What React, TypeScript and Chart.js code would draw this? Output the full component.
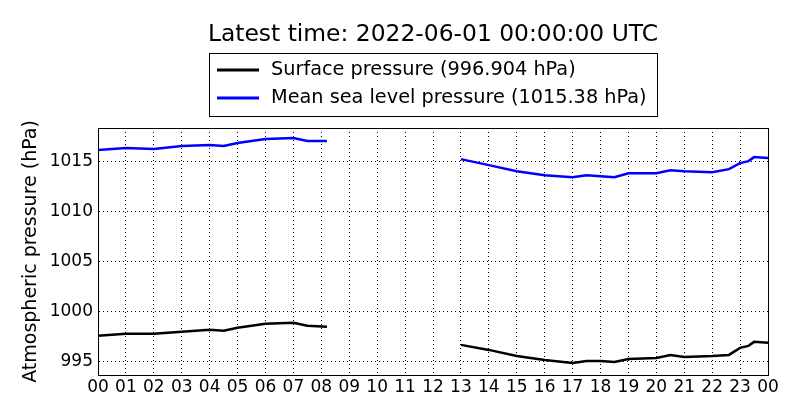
import React, { useEffect, useRef } from "react";
import { Chart, registerables } from "chart.js";
Chart.register(...registerables);

const titleText = "Latest time: 2022-06-01 00:00:00 UTC";
const surfaceLabel = "Surface pressure (996.904 hPa)";
const mslLabel = "Mean sea level pressure (1015.38 hPa)";
const hours = [0, 1, 2, 3, 4, 4.5, 5, 6, 7, 7.5, 8.2, 10, 13, 14, 15, 16, 17, 17.5, 18, 18.5, 19, 20, 20.5, 21, 22, 22.6, 23, 23.3, 23.5, 24];
const surface = [997.6, 997.8, 997.8, 998.0, 998.2, 998.1, 998.4, 998.8, 998.9, 998.6, 998.5, null, 996.7, 996.2, 995.6, 995.2, 994.9, 995.1, 995.1, 995.0, 995.3, 995.4, 995.7, 995.5, 995.6, 995.7, 996.4, 996.6, 997.0, 996.9];
const msl = [1016.1, 1016.3, 1016.2, 1016.5, 1016.6, 1016.5, 1016.8, 1017.2, 1017.3, 1017.0, 1017.0, null, 1015.2, 1014.6, 1014.0, 1013.6, 1013.4, 1013.6, 1013.5, 1013.4, 1013.8, 1013.8, 1014.1, 1014.0, 1013.9, 1014.2, 1014.8, 1015.0, 1015.4, 1015.3];
const yTicks = [995, 1000, 1005, 1010, 1015];

const FONT = "DejaVu Sans";

export default function App() {
  const ref = useRef<HTMLCanvasElement>(null);
  useEffect(() => {
    document.body.style.margin = "0";
    const overlay = {
      id: "overlay",
      afterDraw(chart: any) {
        const c = chart.ctx;
        const a = chart.chartArea;
        c.save();
        c.strokeStyle = "#000";
        c.lineWidth = 1;
        c.strokeRect(Math.round(a.left) + 0.5, Math.round(a.top) + 0.5, a.right - a.left, a.bottom - a.top);
        c.fillStyle = "#000";
        c.font = `23.4px ${FONT}`;
        c.textAlign = "center";
        c.textBaseline = "middle";
        c.fillText(titleText, 433, 35);
        c.fillStyle = "#fff";
        c.fillRect(209.5, 53.5, 448, 63);
        c.strokeRect(209.5, 53.5, 448, 63);
        c.font = `19.3px ${FONT}`;
        c.textAlign = "left";
        c.lineWidth = 3;
        const rows: [string, string, number][] = [["#000", surfaceLabel, 70], ["#0000ff", mslLabel, 98]];
        for (const [col, txt, y] of rows) {
          c.strokeStyle = col;
          c.beginPath();
          c.moveTo(217, y);
          c.lineTo(259, y);
          c.stroke();
          c.fillStyle = "#000";
          c.fillText(txt, 271, y);
        }
        c.restore();
      },
    };
    const mk = (arr: (number | null)[]) => hours.map((h, i) => ({ x: h, y: arr[i] as any }));
    const chart = new Chart(ref.current!, {
      type: "line",
      data: {
        datasets: [
          { data: mk(surface), borderColor: "#000", borderWidth: 2.5, pointRadius: 0, spanGaps: false },
          { data: mk(msl), borderColor: "#0000ff", borderWidth: 2.5, pointRadius: 0, spanGaps: false },
        ],
      },
      options: {
        animation: false,
        responsive: false,
        layout: { padding: { top: 128, right: 32, left: 20, bottom: 0 } },
        plugins: { legend: { display: false }, tooltip: { enabled: false } },
        scales: {
          x: {
            type: "linear",
            min: 0,
            max: 24,
            afterFit: (s: any) => { s.height = 45; },
            afterBuildTicks: (s: any) => { s.ticks = Array.from({ length: 25 }, (_, i) => ({ value: i })); },
            ticks: {
              autoSkip: false,
              maxRotation: 0,
              color: "#000",
              font: { family: FONT, size: 17 },
              padding: 2,
              callback: (v: any) => String(Number(v) % 24).padStart(2, "0"),
            },
            grid: { color: "#000", drawTicks: false } as any,
            border: { dash: [1, 3], color: "#000" },
          },
          y: {
            min: 993.7,
            max: 1018.3,
            afterFit: (s: any) => { s.width = 78; },
            afterBuildTicks: (s: any) => { s.ticks = yTicks.map((v) => ({ value: v })); },
            ticks: { color: "#000", font: { family: FONT, size: 17 }, padding: 5, callback: (v: any) => String(v) },
            title: { display: true, text: "Atmospheric pressure (hPa)", color: "#000", font: { family: FONT, size: 19 }, padding: 0 },
            grid: { color: "#000", drawTicks: false } as any,
            border: { dash: [1, 3], color: "#000" },
          },
        },
      },
      plugins: [overlay],
    });
    return () => chart.destroy();
  }, []);
  return <canvas ref={ref} width={800} height={420} style={{ display: "block" }} />;
}
